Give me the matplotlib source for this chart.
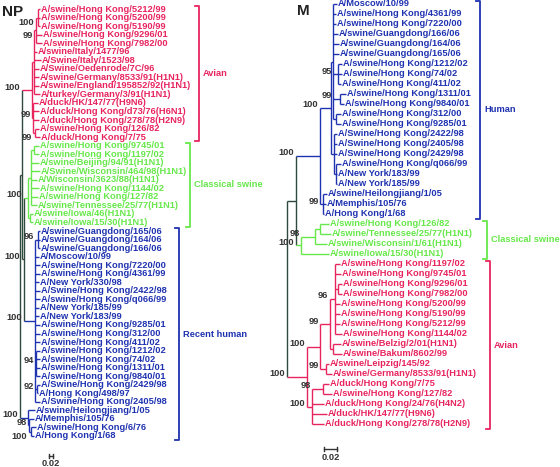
import matplotlib
matplotlib.use("Agg")
import matplotlib.pyplot as plt

plt.rcParams['font.family'] = ['Liberation Sans', 'DejaVu Sans']

# ---------------- data ----------------
np_names = [
    "A/swine/Hong Kong/5212/99", "A/swine/Hong Kong/5200/99", "A/swine/Hong Kong/5190/99",
    "A/swine/Hong Kong/9296/01", "A/swine/Hong Kong/7982/00", "A/swine/Italy/1477/96",
    "A/Swine/Italy/1523/98", "A/Swine/Oedenrode/7C/96", "A/swine/Germany/8533/91(H1N1)",
    "A/swine/England/195852/92(H1N1)", "A/turkey/Germany/3/91(H1N1)", "A/duck/HK/147/77(H9N6)",
    "A/duck/Hong Kong/d73/76(H6N1)", "A/duck/Hong Kong/278/78(H2N9)", "A/swine/Hong Kong/126/82",
    "A/duck/Hong Kong/7/75",
    "A/swine/Hong Kong/9745/01", "A/swine/Hong Kong/1197/02", "A/swine/Beijing/94/91(H1N1)",
    "A/Swine/Wisconsin/464/98(H1N1)", "A/Wisconsin/3623/88(H1N1)", "A/swine/Hong Kong/1144/02",
    "A/swine/Hong Kong/127/82", "A/swine/Tennessee/25/77(H1N1)", "A/swine/Iowa/46(H1N1)",
    "A/swine/Iowa/15/30(H1N1)",
    "A/swine/Guangdong/165/06", "A/swine/Guangdong/164/06", "A/swine/Guangdong/166/06",
    "A/Moscow/10/99", "A/swine/Hong Kong/7220/00", "A/swine/Hong Kong/4361/99",
    "A/New York/330/98", "A/Swine/Hong Kong/2422/98", "A/swine/Hong Kong/q066/99",
    "A/New York/185/99", "A/New York/183/99", "A/swine/Hong Kong/9285/01",
    "A/swine/Hong Kong/312/00", "A/swine/Hong Kong/411/02", "A/swine/Hong Kong/1212/02",
    "A/swine/Hong Kong/74/02", "A/swine/Hong Kong/1311/01", "A/swine/Hong Kong/9840/01",
    "A/Swine/Hong Kong/2429/98", "A/Hong Kong/498/97", "A/Swine/Hong Kong/2405/98",
    "A/swine/Heilongjiang/1/05", "A/Memphis/105/76", "A/swine/Hong Kong/6/76",
    "A/Hong Kong/1/68",
]
np_groups = ["Avian"] * 16 + ["Classical swine"] * 10 + ["Recent human"] * 25

# tree: internal node = [branch length, bootstrap, [children]] (+ optional "below")
#       leaf = branch length (substitutions/site)
np_tree = [0, None, [
    [0.01, None, [
        [0.05, 100, [
            [0.01, None, [
                [0.01, 99, [[0.01, 100, [0.01, 0.01, 0.01], "below"], 0.03, 0.03], "below"],
                0.015, 0.035, 0.025, 0.025, 0.025, 0.03]],
            [0.005, 99, [0.025, 0.03, 0.03, [0.01, 99, [0.02, 0.025], "below"]]]]],
        [0.01, 100, [
            [0.02, 100, [
                [0.015, None, [[0.015, None, [0.025, 0.025]], 0.04, 0.045, 0.03, 0.04, 0.035, 0.03]],
                [0.01, None, [0.015, 0.015]]]],
            [0.055, 100, [
                [0.015, 96, [0.01, 0.01, 0.01]],
                0.02, 0.025, 0.025, 0.02, 0.025, 0.025, 0.02, 0.02, 0.025, 0.025, 0.025,
                [0.005, 94, [0.02, 0.02, 0.02, 0.02]],
                [0.01, 92, [0.015, 0.005]],
                0.025]]]]]],
    [0.04, 100, [
        0.035,
        [0.005, 98, [0.025, [0.01, 100, [0.025, 0.015], "below"]]]]],
]]

m_names = [
    "A/Moscow/10/99", "A/swine/Hong Kong/4361/99", "A/swine/Hong Kong/7220/00",
    "A/swine/Guangdong/166/06", "A/swine/Guangdong/164/06", "A/swine/Guangdong/165/06",
    "A/swine/Hong Kong/1212/02", "A/swine/Hong Kong/74/02", "A/swine/Hong Kong/411/02",
    "A/swine/Hong Kong/1311/01", "A/swine/Hong Kong/9840/01", "A/swine/Hong Kong/312/00",
    "A/swine/Hong Kong/9285/01", "A/Swine/Hong Kong/2422/98", "A/Swine/Hong Kong/2405/98",
    "A/Swine/Hong Kong/2429/98", "A/swine/Hong Kong/q066/99", "A/New York/183/99",
    "A/New York/185/99", "A/swine/Heilongjiang/1/05", "A/Memphis/105/76", "A/Hong Kong/1/68",
    "A/swine/Hong Kong/126/82", "A/swine/Tennessee/25/77(H1N1)", "A/swine/Wisconsin/1/61(H1N1)",
    "A/swine/Iowa/15/30(H1N1)",
    "A/swine/Hong Kong/1197/02", "A/swine/Hong Kong/9745/01", "A/swine/Hong Kong/9296/01",
    "A/swine/Hong Kong/7982/00", "A/swine/Hong Kong/5200/99", "A/swine/Hong Kong/5190/99",
    "A/swine/Hong Kong/5212/99", "A/swine/Hong Kong/1144/02", "A/swine/Belzig/2/01(H1N1)",
    "A/swine/Bakum/8602/99", "A/swine/Leipzig/145/92", "A/swine/Germany/8533/91(H1N1)",
    "A/duck/Hong Kong/7/75", "A/swine/Hong Kong/127/82", "A/duck/Hong Kong/24/76(H4N2)",
    "A/duck/HK/147/77(H9N6)", "A/duck/Hong Kong/278/78(H2N9)",
]
m_groups = ["Human"] * 22 + ["Classical swine"] * 4 + ["Avian"] * 17

m_tree = [0, None, [
    [0.0135, None, [
        [0.036, 100, [
            [0.0165, 100, [
                [0.003, None, [
                    0.006, 0.0045, 0.0045, 0.0075, 0.009, 0.009,
                    [0.0075, 95, [0.006, 0.006, 0.0045]],
                    [0.0105, 99, [0.009, 0.006]],
                    [0.0045, None, [0.0075, 0.0075]]]],
                [0.0045, None, [0.0045, 0.0045, 0.0045, [0.003, None, [0.0075, 0.0015, 0.0015]]]]]],
            [0.0045, 99, [0.006, 0.0045, 0.0015]]]],
        [0.0075, 100, [
            [0.021, 98, [[0.0075, None, [0.0135, 0.0165]], 0.018]],
            0.042]]]],
    [0.03, 100, [
        [0.0195, 100, [
            [0.015, 99, [
                [0.0075, 96, [0.0075, 0.009, [0.0045, None, [0.006, 0.006]], 0.0075, 0.0075, 0.0075, 0.0105]],
                [0.0045, None, [0.012, 0.0135]]]],
            [0.009, 99, [0.0045, 0.009]]]],
        [0.0075, 100, [[0.0165, 98, [0.009, 0.0135]], 0.018, 0.0225, 0.018]]]],
]]

scale_value = 0.02

# ---------------- styles ----------------
COL = {"Avian": "#e8245f", "Classical swine": "#66e84a", "Recent human": "#1f33b0",
       "Human": "#1f33b0"}
DARK = "#2d4a3c"
FS = 6.7
LW = 1.0

fig = plt.figure(figsize=(5.6, 4.67), dpi=100)
ax = fig.add_axes([0, 0, 1, 1])
ax.set_xlim(0, 560)
ax.set_ylim(467, 0)
ax.axis("off")


def draw_tree(tree, names, groups, x0, px_per_unit, y0, dy):
    counter = [0]

    def rec(item, parent_x):
        if not isinstance(item, list):
            x = parent_x + item * px_per_unit
            i = counter[0]
            counter[0] += 1
            y = y0 + i * dy
            col = COL[groups[i]]
            ax.text(x + 1.2, y, names[i], fontsize=FS, fontweight="bold", color=col,
                    ha="left", va="center")
            return x, y, col
        bl, bs, kids = item[:3]
        below = len(item) > 3 and item[3] == "below"
        x = parent_x + bl * px_per_unit
        res = [rec(k, x) for k in kids]
        ys = [r[1] for r in res]
        cols = set(r[2] for r in res)
        col = cols.pop() if len(cols) == 1 else DARK
        ax.plot([x, x], [ys[0], ys[-1]], color=col, lw=LW, solid_capstyle="butt")
        for cx, cy, cc in res:
            ax.plot([x, cx], [cy, cy], color=cc, lw=LW, solid_capstyle="butt")
        y = (ys[0] + ys[-1]) / 2
        if bs is not None:
            ax.text(parent_x - 1.5, y + (5 if below else -3), str(bs), fontsize=FS,
                    fontweight="bold", color="#333333", ha="right", va="center")
        return x, y, col

    rec(tree, x0)
    return [y0 + i * dy for i in range(len(names))]


def brackets(groups, ys, xs, dy):
    order = []
    for g in groups:
        if g not in order:
            order.append(g)
    for g in order:
        idx = [i for i, gg in enumerate(groups) if gg == g]
        top = ys[idx[0]] - 0.3 * dy
        bot = ys[idx[-1]] + 0.5 * dy
        bx = xs[g]
        c = COL[g]
        ax.plot([bx - 4, bx, bx, bx - 4], [top, top, bot, bot], color=c, lw=1.3)
        ax.text(bx + 4, (top + bot) / 2, g, fontsize=FS, fontweight="bold", color=c,
                ha="left", va="center")


def scale_bar(x, y, px_per_unit):
    L = scale_value * px_per_unit
    ax.plot([x, x + L], [y, y], color="#333333", lw=1.0)
    ax.plot([x, x], [y - 2, y + 2], color="#333333", lw=1.0)
    ax.plot([x + L, x + L], [y - 2, y + 2], color="#333333", lw=1.0)
    ax.text(x + L / 2, y + 8, f"{scale_value:.2f}", fontsize=FS, fontweight="bold",
            color="#333333", ha="center", va="center")


# NP tree
np_ys = draw_tree(np_tree, np_names, np_groups, 20, 200, 9, 8.54)
brackets(np_groups, np_ys, {"Avian": 199, "Classical swine": 190, "Recent human": 179}, 8.54)
scale_bar(49, 456, 200)
ax.text(2, 12, "NP", fontsize=11, fontweight="bold", color="#222222", ha="left", va="center")

# M tree
m_ys = draw_tree(m_tree, m_names, m_groups, 287, 1 / 0.0015, 4, 10)
brackets(m_groups, m_ys, {"Human": 480, "Classical swine": 487, "Avian": 490}, 10)
scale_bar(324, 449, 1 / 0.0015)
ax.text(297, 11, "M", fontsize=11, fontweight="bold", color="#222222", ha="left", va="center")

fig.savefig("out.png", dpi=100)
